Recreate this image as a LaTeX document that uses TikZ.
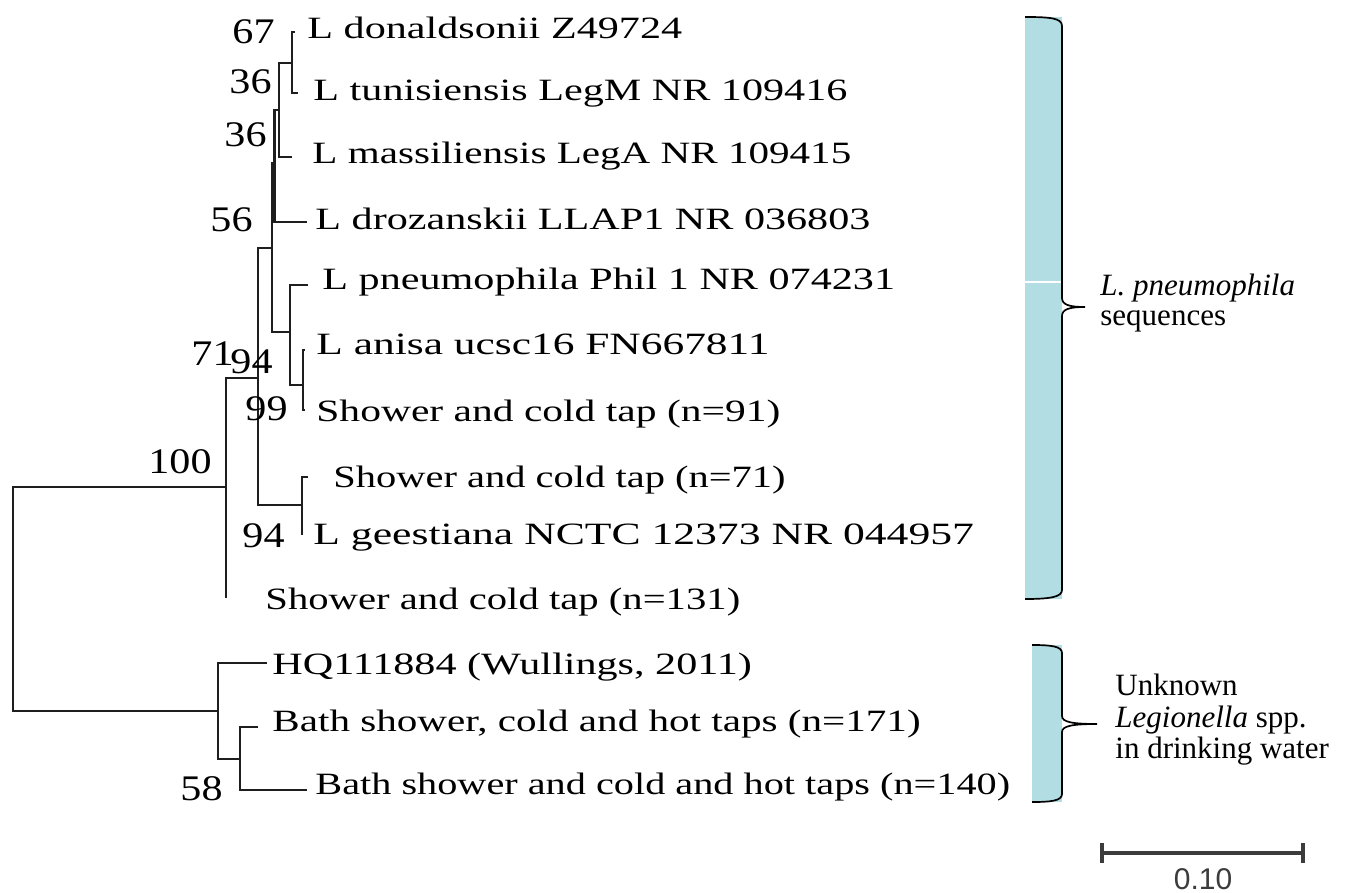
\documentclass[tikz,border=0pt]{standalone}
\usepackage{fontspec}
\setmainfont{Liberation Serif}
\newfontfamily\leaffont{Liberation Serif}[FakeStretch=1.36]
\newfontfamily\bsfont{Liberation Serif}[FakeStretch=1.17]
\newfontfamily\sansnum{Liberation Sans}
\definecolor{barcyan}{RGB}{178,221,227}
\definecolor{treeline}{RGB}{30,30,30}
\definecolor{scalegray}{RGB}{60,60,60}
\begin{document}
\begin{tikzpicture}[x=0.5pt,y=-0.5pt,
  leaf/.style={font=\leaffont\fontsize{15.5}{18}\selectfont, anchor=base west, inner sep=0pt},
  boot/.style={font=\bsfont\fontsize{18}{21}\selectfont, anchor=base east, inner sep=0pt},
  side/.style={font=\fontsize{15.5}{18}\selectfont, anchor=base west, inner sep=0pt},
  branch/.style={line width=1.45pt, draw=treeline},
  brace/.style={line width=0.85pt, draw=black},
  bar/.style={fill=barcyan, draw=none}]
\useasboundingbox (0,0) rectangle (1348,893);

% ---- internal nodes and tips ----
\coordinate (root) at (13,599);
\coordinate (R) at (226,487);
\coordinate (Q) at (258,378);
\coordinate (P) at (272,248);
\coordinate (X) at (274.5,163);
\coordinate (Y) at (279,110);
\coordinate (Z) at (292,63);
\coordinate (B) at (290,332);
\coordinate (C) at (303,385);
\coordinate (G) at (302,505);
\coordinate (Lo) at (218,711);
\coordinate (M) at (240,759);

\coordinate (tdon) at (295,32);
\coordinate (ttun) at (298,93);
\coordinate (tmas) at (292,157);
\coordinate (tdro) at (307,222);
\coordinate (tpne) at (308,285);
\coordinate (tani) at (305,350);
\coordinate (tn91) at (305,410);
\coordinate (tn71) at (308,477);
\coordinate (tgee) at (302,535);
\coordinate (tn131) at (226,598);
\coordinate (thq) at (267,663);
\coordinate (tb171) at (258,727);
\coordinate (tb140) at (307,790);

% ---- branches ----
\draw[branch] (root) |- (R);
\draw[branch] (root) |- (Lo);
\draw[branch] (R) |- (Q);
\draw[branch] (R) |- (tn131);
\draw[branch] (Q) |- (P);
\draw[branch] (Q) |- (G);
\draw[branch] (P) |- (X);
\draw[branch] (P) |- (B);
\draw[branch] (X) |- (Y);
\draw[branch] (X) |- (tdro);
\draw[branch] (Y) |- (Z);
\draw[branch] (Y) |- (tmas);
\draw[branch] (Z) |- (tdon);
\draw[branch] (Z) |- (ttun);
\draw[branch] (B) |- (tpne);
\draw[branch] (B) |- (C);
\draw[branch] (C) |- (tani);
\draw[branch] (C) |- (tn91);
\draw[branch] (G) |- (tn71);
\draw[branch] (G) |- (tgee);
\draw[branch] (Lo) |- (thq);
\draw[branch] (Lo) |- (M);
\draw[branch] (M) |- (tb171);
\draw[branch] (M) |- (tb140);

% ---- leaf labels ----
\node[leaf] (ldon) at (307,39) {L donaldsonii Z49724};
\node[leaf] (ltun) at (313,101) {L tunisiensis LegM NR 109416};
\node[leaf] (lmas) at (312,164) {\scalebox{0.975}[1]{L massiliensis LegA NR 109415}};
\node[leaf] (ldro) at (315,229) {L drozanskii LLAP1 NR 036803};
\node[leaf] (lpne) at (322,289) {L pneumophila Phil 1 NR 074231};
\node[leaf] (lani) at (316,354) {\scalebox{1.03}[1]{L anisa ucsc16 FN667811}};
\node[leaf] (ln91) at (316,421) {\scalebox{0.985}[1]{Shower and cold tap (n=91)}};
\node[leaf] (ln71) at (333,487) {\scalebox{0.96}[1]{Shower and cold tap (n=71)}};
\node[leaf] (lgee) at (313,544) {\scalebox{1.035}[1]{L geestiana NCTC 12373 NR 044957}};
\node[leaf] (ln131) at (265,609) {\scalebox{0.965}[1]{Shower and cold tap (n=131)}};
\node[leaf] (lhq) at (272,674) {HQ111884 (Wullings, 2011)};
\node[leaf] (lb171) at (272,731) {\scalebox{0.975}[1]{Bath shower, cold and hot taps (n=171)}};
\node[leaf] (lb140) at (315,794) {\scalebox{0.955}[1]{Bath shower and cold and hot taps (n=140)}};

% ---- bootstrap values ----
\node[boot] (b67) at (275,44) {67};
\node[boot] (b36a) at (272,94) {36};
\node[boot] (b36b) at (267,147) {36};
\node[boot] (b56) at (253,232) {56};
\node[boot] (b71) at (234,365) {71};
\node[boot] (b94a) at (273,373) {94};
\node[boot] (b99) at (288,420) {99};
\node[boot] (b100) at (212,473) {100};
\node[boot] (b94b) at (285,547) {94};
\node[boot] (b58) at (223,800) {58};

% ---- upper bracket ----
\path[bar] (1025,17) rectangle (1062,599);
\draw[white, line width=0.9pt] (1025,282) -- (1061,282);
\draw[brace] (1025,17) .. controls (1050,17) and (1062,18) .. (1062,26)
  -- (1062,298) .. controls (1062,305) and (1070,307) .. (1085,307)
  .. controls (1070,307) and (1062,309) .. (1062,316)
  -- (1062,590) .. controls (1062,597) and (1050,599) .. (1025,599);
\node[side] (gp1) at (1100,295) {\itshape L. pneumophila};
\node[side] (gp2) at (1100,325) {sequences};

% ---- lower bracket ----
\path[bar] (1032,645) rectangle (1062,802);
\draw[brace] (1032,645) .. controls (1050,645) and (1062,646) .. (1062,653)
  -- (1062,716) .. controls (1062,722) and (1072,724) .. (1097,724)
  .. controls (1072,724) and (1062,726) .. (1062,732)
  -- (1062,794) .. controls (1062,801) and (1050,802) .. (1032,802);
\node[side] (gu1) at (1115,695) {Unknown};
\node[side] (gu2) at (1115,727) {\itshape Legionella\upshape\ spp.};
\node[side] (gu3) at (1115,758) {in drinking water};

% ---- scale bar ----
\coordinate (s1) at (1102,853);
\coordinate (s2) at (1303,853);
\draw[line width=1.6pt, draw=scalegray] (s1) -- (s2);
\draw[line width=1.6pt, draw=scalegray] ([yshift=-5pt]s1) -- ([yshift=5pt]s1);
\draw[line width=1.6pt, draw=scalegray] ([yshift=-5pt]s2) -- ([yshift=5pt]s2);
\node[font=\sansnum\fontsize{15}{17}\selectfont, text=scalegray, inner sep=0pt] (slab) at (1203,879) {0.10};
\end{tikzpicture}
\end{document}
